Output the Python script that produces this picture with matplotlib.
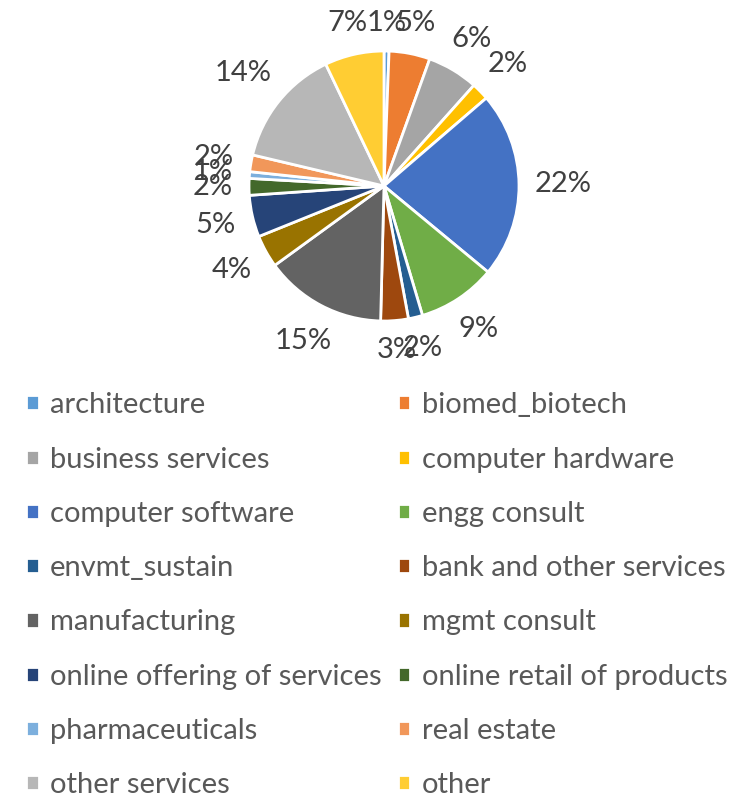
import numpy as np
import matplotlib.pyplot as plt

# sector names and shares (percent)
categories = ['architecture', 'biomed_biotech', 'business services', 'computer hardware',
              'computer software', 'engg consult', 'envmt_sustain', 'bank and other services',
              'manufacturing', 'mgmt consult', 'online offering of services',
              'online retail of products', 'pharmaceuticals', 'real estate',
              'other services', 'other']
shares = [0.6, 4.9, 6.1, 2.1, 22.3, 9.4, 1.7, 3.3, 14.6, 3.9, 5.0, 2.0, 0.8, 2.0, 14.2, 7.1]
colors = ['#5B9BD5', '#ED7D31', '#A5A5A5', '#FFC000', '#4472C4', '#70AD47', '#255E91',
          '#9E480E', '#636363', '#997300', '#264478', '#43682B', '#7CAFDD', '#F1975A',
          '#B7B7B7', '#FFCD33']

plt.rcParams['font.family'] = ['Lato', 'DejaVu Sans']

W, H = 739, 797
fig = plt.figure(figsize=(W / 100, H / 100), dpi=100)

# pie centre (384,186) px, radius 135 px
cx, cy, r = 384, 186, 135
ax = fig.add_axes([(cx - r) / W, (H - cy - r) / H, 2 * r / W, 2 * r / H])
wedges, _ = ax.pie(shares, colors=colors, startangle=90, counterclock=False,
                   wedgeprops=dict(edgecolor='white', linewidth=2))
ax.set_xlim(-1, 1)
ax.set_ylim(-1, 1)
ax.set_aspect('equal')

# percent labels placed outside, box edge just beyond the rim (like Excel)
total = sum(shares)
labels = []
for w, v in zip(wedges, shares):
    t = ax.text(0, 0, f'{round(100 * v / total)}%', ha='center', va='center',
                fontsize=21, color='#404040', clip_on=False)
    labels.append((t, w))
fig.canvas.draw()
renderer = fig.canvas.get_renderer()
gap = 151
for t, w in labels:
    bb = t.get_window_extent(renderer)
    ang = np.deg2rad((w.theta1 + w.theta2) / 2)
    c, s = np.cos(ang), np.sin(ang)
    d = (gap + abs(c) * bb.width / 2 + abs(s) * bb.height * 0.45) / r
    t.set_position((d * c, d * s))

# legend is filled row by row in the reference, matplotlib fills by column
order = list(range(0, 16, 2)) + list(range(1, 16, 2))
leg = fig.legend([wedges[i] for i in order], [categories[i] for i in order], ncol=2,
                 loc='upper left', bbox_to_anchor=(0, 1 - 366 / H), frameon=False,
                 fontsize=21, labelcolor='#595959', handlelength=0.42, handleheight=0.42,
                 handletextpad=0.4, columnspacing=0.55, labelspacing=0.97)

fig.savefig('out.png', dpi=100)
